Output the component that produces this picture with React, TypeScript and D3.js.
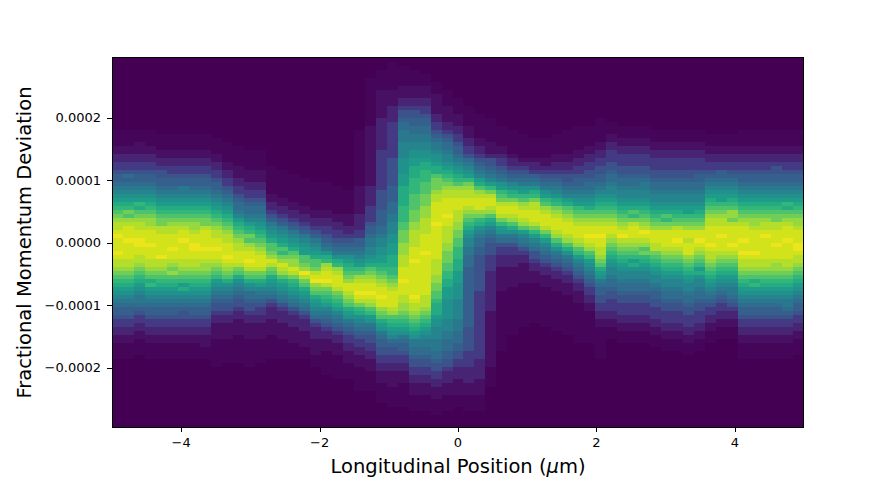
import React from "react";
import * as d3 from "d3";

const WIDTH = 893;
const HEIGHT = 480;
const BIN_ROWS = 92;
const xLimits = [-5, 5];
const yLimits = [0.0002952, -0.0002952];
const xTicks = [-4, -2, 0, 2, 4];
const yTicks = [0.0002, 0.0001, 0, -0.0001, -0.0002];
const yTickLabels = ["0.0002", "0.0001", "0.0000", "\u22120.0001", "\u22120.0002"];
const xTickLabels = ["\u22124", "\u22122", "0", "2", "4"];

// Colour position of each density level.
const levelScale = [0, 0.012, 0.04, 0.1, 0.17, 0.25, 0.3, 0.35, 0.4, 0.45, 0.5, 0.55, 0.61, 0.66, 0.72, 0.78, 0.84, 0.89, 0.93, 0.97, 1];

// Index of the first non-empty momentum bin per longitudinal column.
const columnFirstBin = [
  18, 18, 18, 18, 19, 19, 19, 19, 19, 20, 21, 22, 23, 23, 27, 28, 29, 30, 31, 31, 32,
  33, 18, 5, 3, 1, 2, 3, 4, 6, 8, 10, 12, 14, 15, 17, 18, 19, 20, 20, 19, 18,
  17, 17, 15, 16, 17, 17, 17, 18, 18, 18, 18, 18, 19, 19, 19, 18, 18, 18, 18, 18, 18,
];

// Estimated density per bin, base-36 level 0..20, read top to bottom per column.
const columnLevels = [
  "1111223344566789abcdefghhijiiijihhgfedcba9876654433221111",
  "1111223344576789abcdfeghiiijiiiihhgfedcba9876654433221111",
  "1112223344566789abdcefghhiijjiihhgfedcba9887654433221111",
  "1111223344566789abcdefgghiiijiiihhgfecdba9876654433221111",
  "1111223345566789abcdeffhhiiiiijhhgfedcba9876654433221111",
  "1111223344566789abcdefghhiiijiihgfgedcba9876654433221111",
  "1111223344566889abcdefghiijiiiihhgfedbca9876554433221111",
  "1111223344566789abcdefgghiijjiihhgfedcba9876654433221111",
  "1111223344566789abcdeffhiiiijiihggfedcba9876654433222111",
  "1111223344566789abcdefghhiijiihgfedba98765543322221111111",
  "1111122334456789abcdefghhiiijihgfeca9876554332222111111",
  "11111222334456778" + "9bcdefghhiiihfeca9876554332222" + "1111111",
  "11111222334456778" + "9bcdfeghiijihfeca9776554332222" + "1111111",
  "11111222334456778" + "9abcdefghiiihfecb9876544332222" + "111111",
  "1111111223345" + "689abceefgihfecba98754333" + "2222111111",
  "1111111223345" + "689abcedfgihgecba98754333" + "222211111",
  "111111122334" + "5689abcefggihfdcba98754333" + "22221111",
  "1111111223345" + "689abbeefgjhfecba98754333" + "2222111",
  "1111111223345" + "689abceefhijgfecba98754333" + "2222111",
  "1111111223344" + "5678acdgh" + "iijhfedcb98765" + "433222111111",
  "1111111223344" + "5678acdgh" + "iiihfedcb98765" + "433222111111",
  "111111" + "222" + "33" + "4" + "5678abcdefgiihgfecba87654" + "4" + "33" + "222" + "1111",
  "11111111111111" + "2222222" + "333344" + "66789abdeghiijihfdca987654433222" + "111111",
  "111111111111" + "222222222222222" + "33333" + "4444" + "5667889" + "9abcefghiijihgedba87655443322" + "2" + "11111",
  "11111" + "2222222" + "33333333" + "4444444444" + "55555" + "6666" + "77899aabbcdefghiijiigfecba8766554433222" + "11111",
  "1111111" + "2222" + "3333" + "444444444" + "5555555" + "6666" + "777" + "88999aabbbcccddefghiiiihgedcba976554433" + "2222" + "11111",
  "11111" + "222" + "33" + "4556778889999aaaabbbcccccdddd" + "eefffggghhhiiijiiihhggfedcba8766" + "5443322" + "2111111",
  "1111" + "222" + "33" + "45566778899aabbcccddddeeeefffgghhhh" + "iiijiiiiiiiiji" + "hhgfedcba88776554433222" + "1111",
  "111" + "222" + "33" + "44566778899aabccdddeeefffggghhhh" + "iiiijiiiiiiiii" + "ihhhgfedcba98877655443322" + "21111",
  "111" + "2222" + "2" + "33445" + "67889aabccefffghhi" + "iiiijiiiiiiii" + "hhhhggffeedccc" + "ba" + "a99988877655443322" + "21111",
  "1111" + "2222" + "33456778" + "99abcdefghhi" + "iiijii" + "hhhhggfffeeddccbbb" + "aaaaa999887776655" + "43332221111",
  "1111" + "222" + "33445" + "667" + "89abcdeghhiiihhhggffeedddcccbbb" + "aaaa99999888777665544" + "333222" + "2111",
  "11111" + "222" + "33445" + "789abdfghhiihgfedcba9988777" + "666666666666666" + "555555" + "4444" + "3333" + "222" + "1111",
  "111111" + "22" + "33456789bcegh" + "iiigfdca98776655" + "5555555" + "44444444444444444" + "33333" + "2222" + "1111",
  "111111" + "222" + "35567" + "89bdfhiihgecb98765554444" + "3333333333" + "22222222222222" + "11111",
  "11111" + "22" + "34456" + "78abdefhiihfdba8754433" + "3222222" + "111111111111111",
  "111111" + "2" + "33456" + "79acdfhiihgeca87544" + "33322222" + "111111111111",
  "111111" + "2" + "34567" + "8abdeghiihgeb987543322222" + "11111111111",
  "11111" + "2" + "33467" + "8acdfhhiiihfdb98755" + "4332" + "22" + "1111111111",
  "11111" + "22" + "34567" + "8abdeghiiihfdb98765" + "433222" + "1111111111",
  "11111" + "22" + "33456" + "789acdfghiiihgeca87654332" + "22" + "1111111111",
  "111111" + "22" + "33455" + "6789bcefghiiihgeca8765433222" + "1111111111",
  "111111" + "22" + "3344" + "566789abdefghiiihgedb98765433222" + "1111111111",
  "11111" + "22" + "33" + "4455" + "67789abcefghiijihgedba98765443322" + "11111111",
  "111111" + "22" + "33" + "4455" + "6678" + "9abcdefghiijiihhgfecba876655" + "443322" + "11111111",
  "111223344455677899abcdefghiihgfedcba998776554443322111",
  "111223344455677899abcdefghijhgfedcba998776554443322111",
  "111223344455677899abcedfhiiihgfedbca998776554443322111",
  "111223344455678899abcdefghjihgefdcba998776554443322111",
  "111223344455677899abcdefgiiihhfedcba998766554443322111",
  "111223344455677899abcedfgiiiihgfedcba998776554443322111",
  "111223344455677899abcdefhiijihgfedcba998776554443322111",
  "111223344455677899abbdefgiihiiigfedcba998776554443322111",
  "111223344456677899abcdefgiijihgfedbca998776554443322111",
  "11122334456789abcdefghhiiiijihhgfedcba98765443322111",
  "11122334466789abbdefghhiijiiihgfedcba98765443322111",
  "11122334456789abcdeggfhiiiijihgfedcba98876543322111",
  "1111223344566789abcdefghiiijiijihhgfedcba9876654433221111",
  "1111223344566789abcdefgghiiiiijihhgfecdba9876654433221111",
  "1111223344566789abcdefghhijiiiiihhgfedcba9876654433221111",
  "1111223345566789abcdeffhhiiijiiihggfedcba9876654433221111",
  "1111223344566789abdcefghiiijiiiihhgfedcba9887654433221111",
  "1111223344566789abcdefgghiiijjihhgfedcba9876654433221111",
];

const cellValues = columnLevels.map((levels, column) =>
  ("0".repeat(columnFirstBin[column]) + levels).padEnd(BIN_ROWS, "0").split("").map((ch) => parseInt(ch, 36))
);

const plot = { left: 112, right: 804, top: 58, bottom: 427 };
const x = d3.scaleLinear().domain(xLimits).range([plot.left, plot.right]);
const y = d3.scaleLinear().domain(yLimits).range([plot.top, plot.bottom]);
const columnScale = d3.scaleLinear().domain([0, columnLevels.length]).range([plot.left, plot.right]);
const rowScale = d3.scaleLinear().domain([0, BIN_ROWS]).range([plot.top, plot.bottom]);
const font = "'DejaVu Sans', sans-serif";

export default function App() {
  return (
    <svg
      width={WIDTH}
      height={HEIGHT}
      viewBox={`0 0 ${WIDTH} ${HEIGHT}`}
      style={{ position: "absolute", left: 0, top: 0, background: "#fff" }}
      fontFamily={font}
    >
      <g shapeRendering="crispEdges">
        <rect x={plot.left} y={plot.top} width={plot.right - plot.left} height={plot.bottom - plot.top} fill={d3.interpolateViridis(0)} />
        {cellValues.map((col, i) =>
          col.map((v, j) =>
            v > 0 ? (
              <rect
                key={`${i}-${j}`}
                x={Math.round(columnScale(i))}
                y={Math.round(rowScale(j))}
                width={Math.round(columnScale(i + 1)) - Math.round(columnScale(i))}
                height={Math.round(rowScale(j + 1)) - Math.round(rowScale(j))}
                fill={d3.interpolateViridis(levelScale[v])}
              />
            ) : null
          )
        )}
      </g>
      <rect x={112.5} y={57.5} width={691} height={370} fill="none" stroke="#000" strokeWidth={1} />
      {xTicks.map((t, i) => (
        <g key={t}>
          <line x1={Math.round(x(t)) + 0.5} x2={Math.round(x(t)) + 0.5} y1={428} y2={432} stroke="#000" strokeWidth={1} />
          <text x={x(t)} y={446.5} textAnchor="middle" fontSize={13}>
            {xTickLabels[i]}
          </text>
        </g>
      ))}
      {yTicks.map((t, i) => (
        <g key={t}>
          <line x1={107} x2={112} y1={Math.round(y(t)) + 0.5} y2={Math.round(y(t)) + 0.5} stroke="#000" strokeWidth={1} />
          <text x={101} y={y(t) + 4.8} textAnchor="end" fontSize={13}>
            {yTickLabels[i]}
          </text>
        </g>
      ))}
      <text x={458} y={473} textAnchor="middle" fontSize={19.5}>
        Longitudinal Position (<tspan fontStyle="italic">μ</tspan>m)
      </text>
      <text transform="translate(31,242.5) rotate(-90)" textAnchor="middle" fontSize={19.5}>
        Fractional Momentum Deviation
      </text>
    </svg>
  );
}
